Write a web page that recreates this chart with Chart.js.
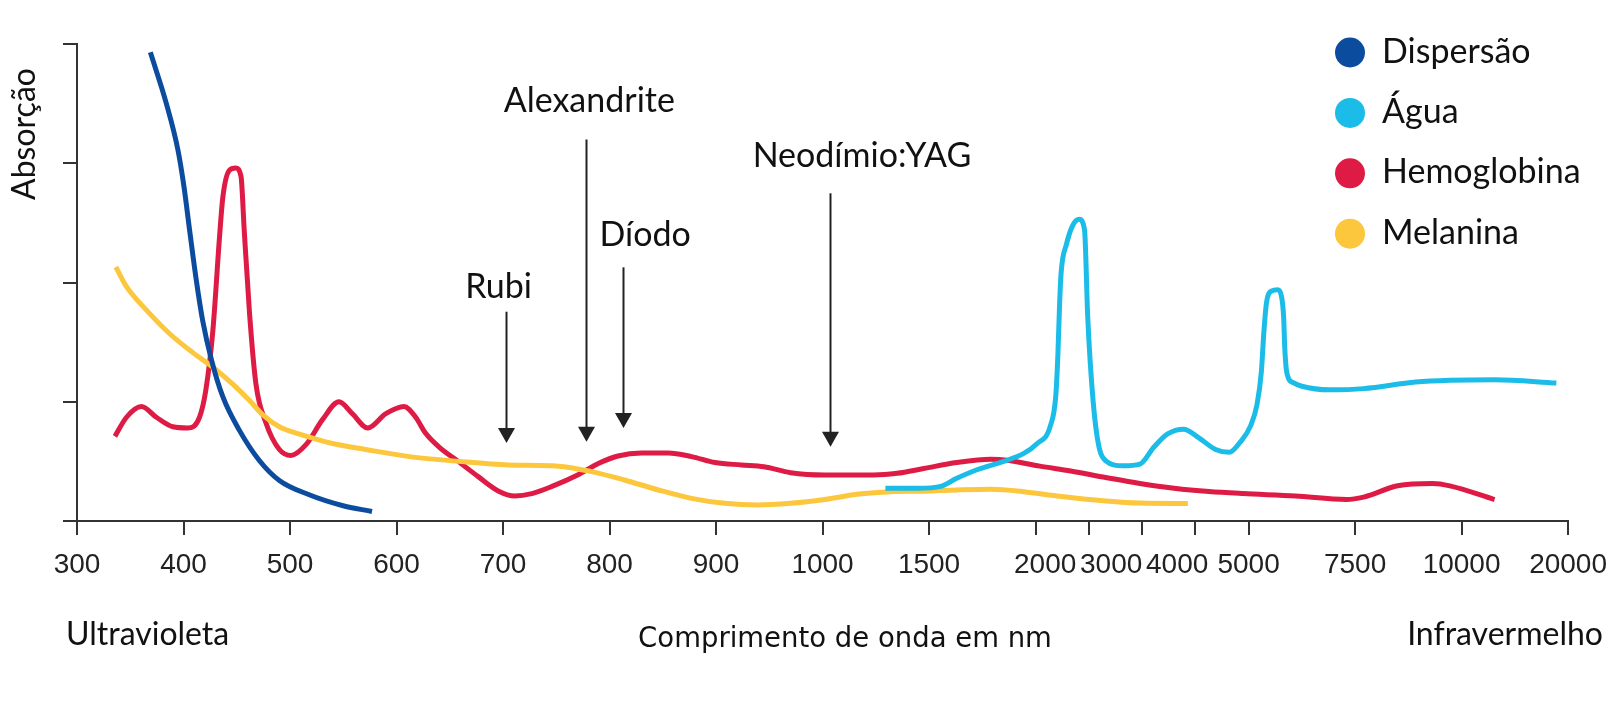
<!DOCTYPE html>
<html>
<head>
<meta charset="utf-8">
<script src="https://cdn.jsdelivr.net/npm/chart.js@4.4.1/dist/chart.umd.min.js"></script>
<style>
  html, body { margin: 0; padding: 0; background: #fff; }
  #wrap { width: 1620px; height: 706px; position: relative; }
</style>
</head>
<body>
<div id="wrap"><canvas id="chart"></canvas></div>
<script>
// x axis is categorical-looking: one unit per printed wavelength
const tickMarks = [0, 1, 2, 3, 4, 5, 6, 7, 8, 9, 9.5, 10, 10.5, 11, 12, 13, 14];
const tickLabels = ['300', '400', '500', '600', '700', '800', '900', '1000', '1500', '2000', '3000', '4000', '5000', '7500', '10000', '20000'];
const tickLabelAt = [0, 1, 2, 3, 4, 5, 6, 7, 8, 9.09, 9.71, 10.33, 11, 12, 13, 14];
const yTicks = [0, 1, 2, 3, 4];

const dispersaoX = [0.689, 0.839, 0.948, 1.005, 1.06, 1.12, 1.18, 1.26, 1.37, 1.525, 1.71, 1.90, 2.18, 2.49, 2.77];
const dispersaoY = [3.93, 3.50, 3.11, 2.80, 2.42, 2.02, 1.68, 1.36, 1.04, 0.76, 0.51, 0.34, 0.22, 0.13, 0.08];

const aguaX = [7.59, 7.89, 8.11, 8.26, 8.45, 8.70, 8.89, 9.01, 9.14, 9.19, 9.21, 9.225, 9.24, 9.29, 9.35, 9.41, 9.46, 9.49, 9.54, 9.59, 9.66, 9.82, 9.98, 10.11, 10.24, 10.39, 10.53, 10.69, 10.82, 10.92, 11.02, 11.08, 11.12, 11.145, 11.17, 11.22, 11.27, 11.31, 11.33, 11.34, 11.36, 11.42, 11.5, 11.76, 12.08, 12.57, 12.89, 13.31, 13.89];
const aguaY = [0.274, 0.274, 0.29, 0.358, 0.43, 0.50, 0.567, 0.646, 0.80, 1.05, 1.40, 1.80, 2.08, 2.32, 2.48, 2.53, 2.44, 1.71, 1.01, 0.646, 0.505, 0.463, 0.477, 0.618, 0.73, 0.77, 0.70, 0.60, 0.576, 0.66, 0.80, 0.98, 1.25, 1.60, 1.84, 1.93, 1.94, 1.88, 1.70, 1.45, 1.24, 1.16, 1.13, 1.10, 1.11, 1.165, 1.18, 1.185, 1.157];

const hemoX = [0.356, 0.465, 0.605, 0.745, 0.90, 1.04, 1.15, 1.21, 1.276, 1.338, 1.37, 1.43, 1.49, 1.54, 1.57, 1.62, 1.68, 1.775, 1.90, 2.01, 2.15, 2.305, 2.46, 2.585, 2.73, 2.90, 3.07, 3.18, 3.27, 3.40, 3.58, 3.77, 3.96, 4.11, 4.27, 4.46, 4.71, 4.89, 5.08, 5.30, 5.55, 5.77, 5.99, 6.24, 6.45, 6.70, 7.02, 7.48, 7.70, 7.95, 8.26, 8.58, 8.73, 9.04, 9.33, 9.66, 9.98, 10.30, 10.63, 10.95, 11.44, 11.92, 12.08, 12.40, 12.73, 12.89, 13.31];
const hemoY = [0.71, 0.87, 0.96, 0.87, 0.79, 0.78, 0.87, 1.10, 1.60, 2.38, 2.72, 2.94, 2.96, 2.89, 2.44, 1.74, 1.15, 0.82, 0.60, 0.55, 0.64, 0.85, 1.00, 0.90, 0.78, 0.90, 0.96, 0.87, 0.74, 0.62, 0.50, 0.37, 0.25, 0.21, 0.23, 0.29, 0.39, 0.48, 0.545, 0.57, 0.57, 0.54, 0.49, 0.47, 0.455, 0.405, 0.386, 0.386, 0.40, 0.44, 0.49, 0.517, 0.51, 0.46, 0.42, 0.365, 0.315, 0.275, 0.247, 0.23, 0.21, 0.18, 0.20, 0.295, 0.315, 0.295, 0.18];

const melaninaX = [0.365, 0.465, 0.65, 0.87, 1.09, 1.276, 1.46, 1.62, 1.745, 1.90, 2.12, 2.40, 2.71, 3.12, 3.58, 4.05, 4.52, 4.83, 5.14, 5.46, 5.77, 6.08, 6.39, 6.70, 7.02, 7.34, 7.64, 7.95, 8.26, 8.58, 8.89, 9.20, 9.66, 9.98, 10.43];
const melaninaY = [2.13, 1.965, 1.77, 1.57, 1.41, 1.29, 1.15, 1.01, 0.89, 0.79, 0.72, 0.65, 0.60, 0.54, 0.50, 0.47, 0.46, 0.414, 0.344, 0.26, 0.19, 0.148, 0.134, 0.148, 0.18, 0.226, 0.246, 0.25, 0.26, 0.266, 0.246, 0.21, 0.168, 0.15, 0.146];

// laser wavelengths marked with arrows (axis units / absorption units)
const laserNames = ['Rubi', 'Alexandrite', 'Díodo', 'Neodímio:YAG'];
const laserX = [4.03, 4.775, 5.128, 7.07];
const laserFrom = [1.755, 3.2, 2.127, 2.748];
const laserTo = [0.654, 0.665, 0.78, 0.623];
const laserTextX = [3.958, 4.81, 5.334, 7.37];
const laserTextY = [1.873, 3.43, 2.309, 2.966];

const toXY = (xs, ys) => xs.map((x, i) => ({ x, y: ys[i] }));

const INK = '#111';
const AXIS = '#333';

function series(label, xs, ys, color, order) {
    return {
        label,
        data: toXY(xs, ys),
        borderColor: color,
        backgroundColor: color,
        borderWidth: 5,
        pointRadius: 0,
        fill: false,
        cubicInterpolationMode: 'monotone',
        borderCapStyle: 'butt',
        order
    };
}

// arrows, labels, legend and free texts
const extras = {
    id: 'extras',
    afterDraw(chart) {
        const ctx = chart.ctx;
        const xs = chart.scales.x, ys = chart.scales.y;
        ctx.save();

        // laser arrows
        ctx.fillStyle = INK;
        ctx.strokeStyle = '#222';
        ctx.lineWidth = 2;
        ctx.font = '34px Lato';
        ctx.textAlign = 'center';
        ctx.textBaseline = 'alphabetic';
        laserNames.forEach((name, i) => {
            const px = Math.round(xs.getPixelForValue(laserX[i])) + 0.5;
            const y0 = ys.getPixelForValue(laserFrom[i]);
            const y1 = ys.getPixelForValue(laserTo[i]);
            ctx.beginPath();
            ctx.moveTo(px, y0);
            ctx.lineTo(px, y1 - 12);
            ctx.stroke();
            ctx.beginPath();
            ctx.moveTo(px - 8.5, y1 - 15);
            ctx.lineTo(px + 8.5, y1 - 15);
            ctx.lineTo(px, y1);
            ctx.closePath();
            ctx.fillStyle = '#222';
            ctx.fill();
            ctx.fillStyle = INK;
            ctx.fillText(name, xs.getPixelForValue(laserTextX[i]), ys.getPixelForValue(laserTextY[i]));
        });

        // legend
        ctx.textAlign = 'left';
        ctx.font = '34px Lato';
        chart.data.datasets.forEach((ds, i) => {
            const cy = 52.5 + i * 60.4;
            ctx.beginPath();
            ctx.arc(1350, cy, 15, 0, Math.PI * 2);
            ctx.fillStyle = ds.borderColor;
            ctx.fill();
            ctx.fillStyle = INK;
            ctx.fillText(ds.label, 1382, cy + 10);
        });

        // axis titles
        ctx.font = '32px Lato';
        ctx.textAlign = 'left';
        ctx.fillText('Ultravioleta', 66, 645);
        ctx.textAlign = 'right';
        ctx.fillText('Infravermelho', 1603, 645);
        ctx.textAlign = 'center';
        ctx.font = '27.5px "DejaVu Sans"';
        ctx.fillText('Comprimento de onda em nm', 845, 647);

        ctx.translate(35, 134);
        ctx.rotate(-Math.PI / 2);
        ctx.font = '32px Lato';
        ctx.fillText('Absorção', 0, 0);
        ctx.restore();
    }
};

new Chart(document.getElementById('chart'), {
    type: 'line',
    data: {
        datasets: [
            series('Dispersão', dispersaoX, dispersaoY, '#0b4c9f', 1),
            series('Água', aguaX, aguaY, '#1bbde8', 0),
            series('Hemoglobina', hemoX, hemoY, '#de1b45', 3),
            series('Melanina', melaninaX, melaninaY, '#fcc73c', 2)
        ]
    },
    options: {
        responsive: true,
        maintainAspectRatio: false,
        animation: false,
        layout: { padding: { left: 63, right: 47, top: 44, bottom: 111 } },
        plugins: {
            legend: { display: false },
            tooltip: { enabled: false }
        },
        scales: {
            x: {
                type: 'linear',
                position: 'bottom',
                weight: 0,
                min: 0,
                max: 14,
                afterBuildTicks: axis => { axis.ticks = tickMarks.map(v => ({ value: v })); },
                afterFit: axis => { axis.height = 14; },
                ticks: { display: false },
                grid: { drawOnChartArea: false, drawTicks: true, tickLength: 14, color: AXIS, lineWidth: 2 },
                border: { color: AXIS, width: 2 }
            },
            xl: {
                type: 'linear',
                position: 'bottom',
                weight: 1,
                min: 0,
                max: 14,
                afterBuildTicks: axis => { axis.ticks = tickLabelAt.map(v => ({ value: v })); },
                afterFit: axis => { axis.height = 60; },
                ticks: {
                    autoSkip: false,
                    maxRotation: 0,
                    minRotation: 0,
                    padding: 13,
                    color: '#222',
                    font: { family: '"Liberation Sans", Arial', size: 28 },
                    callback: (v, i) => tickLabels[i]
                },
                grid: { display: false, drawTicks: false },
                border: { display: false }
            },
            y: {
                type: 'linear',
                min: 0,
                max: 4,
                afterBuildTicks: axis => { axis.ticks = yTicks.map(v => ({ value: v })); },
                afterFit: axis => { axis.width = 14; },
                ticks: { display: false },
                grid: { drawOnChartArea: false, drawTicks: true, tickLength: 14, color: AXIS, lineWidth: 2 },
                border: { color: AXIS, width: 2 }
            }
        }
    },
    plugins: [extras]
});
</script>
</body>
</html>
